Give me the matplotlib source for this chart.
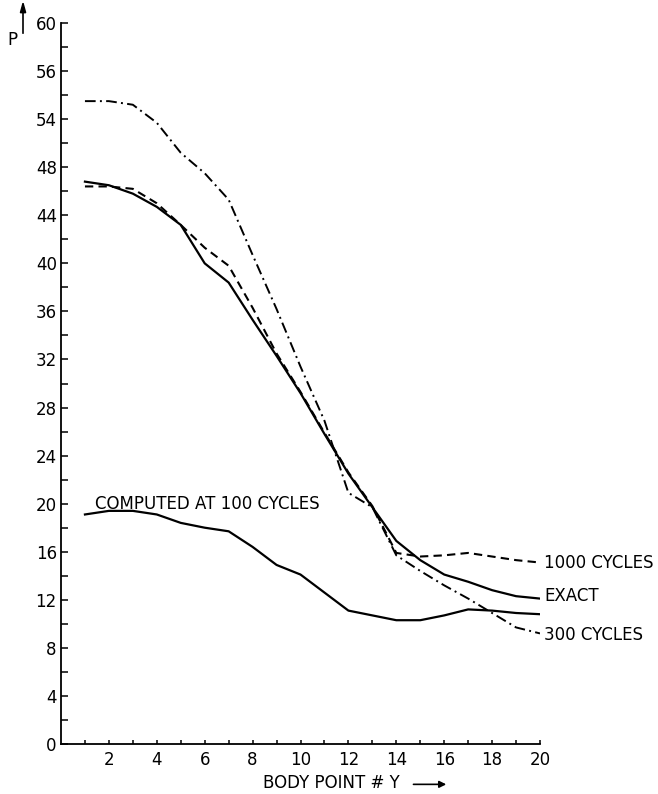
import numpy as np
import matplotlib.pyplot as plt

body_point = np.arange(1, 21)

exact = [46.8, 46.5, 45.8, 44.7, 43.2, 40.0, 38.4, 35.3, 32.3, 29.2,
         25.8, 22.5, 19.7, 16.9, 15.3, 14.1, 13.5, 12.8, 12.3, 12.1]
cycles_1000 = [46.4, 46.4, 46.2, 45.0, 43.2, 41.3, 39.8, 36.3, 32.5, 29.3,
               25.9, 22.6, 19.8, 15.9, 15.6, 15.7, 15.9, 15.6, 15.3, 15.1]
cycles_300 = [53.5, 53.5, 53.2, 51.7, 49.2, 47.5, 45.3, 40.7, 36.2, 31.4,
              26.9, 20.9, 19.7, 15.7, 14.4, 13.2, 12.1, 10.9, 9.7, 9.2]
cycles_100 = [19.1, 19.4, 19.4, 19.1, 18.4, 18.0, 17.7, 16.4, 14.9, 14.1,
              12.6, 11.1, 10.7, 10.3, 10.3, 10.7, 11.2, 11.1, 10.9, 10.8]

x_ticks = [2, 4, 6, 8, 10, 12, 14, 16, 18, 20]
y_ticks = [0, 4, 8, 12, 16, 20, 24, 28, 32, 36, 40, 44, 48, 52, 56, 60]
# the printed figure labels the 52 tick as "54"
y_tick_labels = ['0', '4', '8', '12', '16', '20', '24', '28', '32', '36',
                 '40', '44', '48', '54', '56', '60']

plt.rcParams['font.family'] = ['DejaVu Sans']

fig = plt.figure(figsize=(6.58, 7.94), dpi=100)
ax = fig.add_axes([0.0927, 0.063, 0.728, 0.908])

ax.plot(body_point, exact, color='black', lw=1.6)
ax.plot(body_point, cycles_1000, color='black', lw=1.5, linestyle=(0, (4, 2.5)))
ax.plot(body_point, cycles_300, color='black', lw=1.4, linestyle=(0, (5.5, 2.2, 1, 2.2)))
ax.plot(body_point, cycles_100, color='black', lw=1.6)

ax.set_xlim(0, 20)
ax.set_ylim(0, 60)

ax.spines['top'].set_visible(False)
ax.spines['right'].set_visible(False)
ax.spines['left'].set_linewidth(1.3)
ax.spines['bottom'].set_linewidth(1.3)

ax.set_xticks(x_ticks)
ax.set_xticks(range(1, 20, 2), minor=True)
ax.set_yticks(y_ticks)
ax.set_yticklabels(y_tick_labels)
ax.set_yticks(range(2, 60, 4), minor=True)

ax.tick_params(axis='x', which='both', direction='in', length=3, width=1.1,
               labelsize=12, pad=5)
ax.tick_params(axis='y', which='both', direction='in', length=5, width=1.1,
               labelsize=12, pad=3)

# curve labels
ax.text(1.42, 20.0, 'COMPUTED AT 100 CYCLES', fontsize=12, va='center', ha='left')
ax.text(20.15, 15.1, '1000 CYCLES', fontsize=12, va='center', ha='left', clip_on=False)
ax.text(20.2, 12.3, 'EXACT', fontsize=12, va='center', ha='left', clip_on=False)
ax.text(20.15, 9.1, '300 CYCLES', fontsize=12, va='center', ha='left', clip_on=False)

# axis labels with arrows
ax.text(0.422, -0.054, 'BODY POINT # Y', transform=ax.transAxes,
        fontsize=12, va='center', ha='left')
ax.annotate('', xy=(0.81, -0.056), xytext=(0.73, -0.056),
            xycoords='axes fraction', textcoords='axes fraction',
            arrowprops=dict(arrowstyle='-|>', color='black', lw=1.2,
                            mutation_scale=10))

fig.text(0.011, 0.95, 'P', fontsize=12, va='center', ha='left')
fig.add_artist(plt.Line2D([0.035, 0.035], [0.958, 0.99], color='black', lw=1.2))
fig.patches.append(plt.Polygon([[0.031, 0.984], [0.039, 0.984], [0.035, 0.996]],
                               closed=True, color='black',
                               transform=fig.transFigure, figure=fig))

plt.savefig('out.png', dpi=100)
